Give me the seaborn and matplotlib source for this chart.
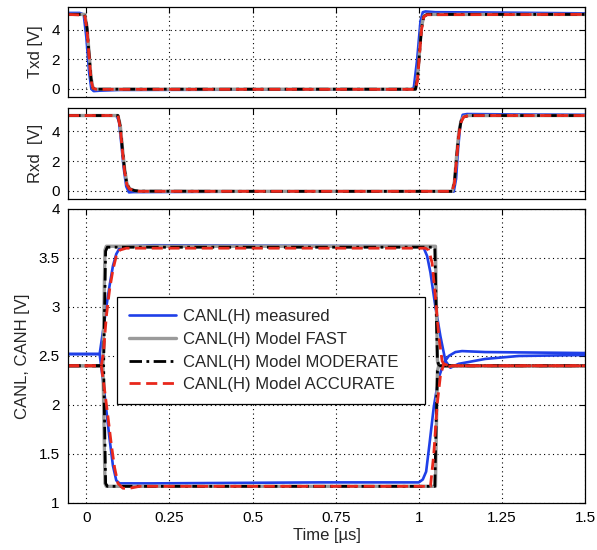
import matplotlib
matplotlib.use("Agg")
import matplotlib.pyplot as plt
import seaborn as sns
import numpy as np

# ---------------- data ----------------
# Txd panel
txd_meas_t = [-0.055, -0.02, -0.008, 0.0, 0.008, 0.015, 0.022, 0.04, 0.1, 0.5, 0.975, 0.985, 0.995, 1.005, 1.012, 1.02, 1.05, 1.2, 1.5]
txd_meas_v = [5.15, 5.15, 5.05, 3.5, 1.2, 0.0, -0.15, -0.12, -0.07, -0.05, -0.05, 0.1, 2.0, 4.6, 5.2, 5.25, 5.2, 5.18, 5.12]
txd_model_t = [-0.055, -0.005, 0.002, 0.008, 0.014, 0.02, 0.03, 0.5, 0.99, 0.996, 1.002, 1.008, 1.015, 1.025, 1.5]
txd_fast_v = [5.05, 5.05, 4.2, 2.5, 0.8, 0.05, -0.02, -0.02, -0.02, 0.8, 2.5, 4.2, 4.95, 5.05, 5.05]
txd_mod_v = [5.05, 5.05, 4.1, 2.4, 0.7, 0.05, -0.02, -0.02, -0.02, 0.7, 2.4, 4.1, 4.9, 5.05, 5.05]
txd_acc_v = [5.05, 5.0, 4.0, 2.3, 0.6, 0.05, -0.03, -0.03, -0.03, 0.6, 2.3, 4.0, 4.9, 5.03, 5.05]

# Rxd panel
rxd_meas_t = [-0.055, 0.09, 0.098, 0.105, 0.112, 0.12, 0.128, 0.14, 0.5, 1.105, 1.112, 1.118, 1.125, 1.132, 1.145, 1.3, 1.5]
rxd_meas_v = [5.05, 5.05, 4.7, 3.2, 1.6, 0.3, -0.1, -0.08, -0.05, -0.05, 0.8, 2.8, 4.5, 5.1, 5.15, 5.12, 5.1]
rxd_model_t = [-0.055, 0.095, 0.102, 0.108, 0.115, 0.122, 0.13, 0.145, 0.16, 0.5, 1.1, 1.107, 1.113, 1.12, 1.127, 1.135, 1.15, 1.5]
rxd_fast_v = [5.05, 5.05, 4.4, 3.0, 1.5, 0.5, 0.15, 0.02, -0.02, -0.03, -0.03, 0.6, 2.2, 3.9, 4.7, 4.98, 5.05, 5.05]
rxd_mod_v = [5.05, 5.05, 4.3, 2.9, 1.4, 0.45, 0.12, 0.02, -0.02, -0.03, -0.03, 0.5, 2.1, 3.8, 4.65, 4.95, 5.05, 5.05]
rxd_acc_v = [5.05, 5.05, 4.2, 2.8, 1.3, 0.4, 0.12, 0.02, -0.03, -0.03, -0.03, 0.5, 2.0, 3.7, 4.6, 4.95, 5.05, 5.05]

# CAN panel - measured
canh_meas_t = [-0.055, 0.04, 0.05, 0.06, 0.07, 0.08, 0.09, 0.1, 0.12, 0.2, 1.0, 1.015, 1.025, 1.035, 1.05, 1.065, 1.08, 1.095, 1.12, 1.2, 1.3, 1.5]
canh_meas_v = [2.52, 2.52, 2.75, 3.0, 3.22, 3.42, 3.54, 3.6, 3.62, 3.63, 3.62, 3.6, 3.52, 3.35, 3.0, 2.7, 2.45, 2.38, 2.42, 2.47, 2.5, 2.51]
canl_meas_t = [-0.055, 0.04, 0.05, 0.06, 0.07, 0.08, 0.09, 0.1, 0.2, 0.7, 1.0, 1.012, 1.022, 1.032, 1.045, 1.06, 1.075, 1.09, 1.11, 1.13, 1.2, 1.5]
canl_meas_v = [2.52, 2.52, 2.25, 1.95, 1.65, 1.38, 1.23, 1.2, 1.2, 1.21, 1.21, 1.24, 1.32, 1.6, 1.98, 2.28, 2.43, 2.5, 2.54, 2.55, 2.54, 2.53]

# CAN panel - model FAST
can_fast_t = [-0.055, 0.05, 0.053, 0.056, 0.06, 1.05, 1.053, 1.056, 1.06, 1.5]
canh_fast_v = [2.4, 2.4, 3.0, 3.58, 3.62, 3.62, 3.0, 2.45, 2.4, 2.4]
canl_fast_v = [2.4, 2.4, 1.8, 1.2, 1.17, 1.17, 1.8, 2.35, 2.4, 2.4]

# CAN panel - model MODERATE
can_mod_t = [-0.055, 0.052, 0.055, 0.058, 0.063, 1.048, 1.052, 1.056, 1.061, 1.5]
canh_mod_v = [2.4, 2.4, 3.0, 3.57, 3.61, 3.61, 3.0, 2.45, 2.4, 2.4]
canl_mod_v = [2.4, 2.4, 1.8, 1.2, 1.17, 1.17, 1.8, 2.35, 2.4, 2.4]

# CAN panel - model ACCURATE
canh_acc_t = [-0.055, 0.045, 0.052, 0.06, 0.07, 0.08, 0.09, 0.1, 0.12, 0.2, 1.02, 1.03, 1.04, 1.05, 1.06, 1.07, 1.08, 1.1, 1.5]
canh_acc_v = [2.4, 2.4, 2.55, 2.9, 3.18, 3.38, 3.52, 3.58, 3.6, 3.6, 3.6, 3.58, 3.45, 3.1, 2.7, 2.45, 2.38, 2.4, 2.4]
canl_acc_t = [-0.055, 0.045, 0.055, 0.065, 0.075, 0.085, 0.095, 0.11, 0.13, 0.16, 0.5, 1.035, 1.045, 1.055, 1.065, 1.075, 1.09, 1.5]
canl_acc_v = [2.4, 2.4, 2.15, 1.88, 1.6, 1.36, 1.2, 1.15, 1.15, 1.17, 1.17, 1.17, 1.5, 2.0, 2.3, 2.42, 2.4, 2.4]

legend_labels = ["CANL(H) measured", "CANL(H) Model FAST",
                 "CANL(H) Model MODERATE", "CANL(H) Model ACCURATE"]
x_ticks = [0, 0.25, 0.5, 0.75, 1, 1.25, 1.5]
x_ticklabels = ["0", "0.25", "0.5", "0.75", "1", "1.25", "1.5"]
y_ticks_dig = [0, 2, 4]
y_ticks_can = [1, 1.5, 2, 2.5, 3, 3.5, 4]
y_ticklabels_can = ["1", "1.5", "2", "2.5", "3", "3.5", "4"]

# ---------------- styling ----------------
sns.set_theme(style="white")
plt.rcParams['font.family'] = ['Liberation Sans', 'DejaVu Sans']

C_MEAS = "#1f3fe8"
C_FAST = "#9a9a9a"
C_MOD = "black"
C_ACC = "#e8281c"
STYLES = [
    dict(color=C_MEAS, lw=1.9, linestyle="-"),
    dict(color=C_FAST, lw=2.4, linestyle="-"),
    dict(color=C_MOD, lw=2.0, linestyle=(0, (4.5, 1.6, 1.0, 1.6))),
    dict(color=C_ACC, lw=2.0, linestyle=(0, (4, 2))),
]

fig = plt.figure(figsize=(5.97, 5.5), dpi=100)
ax1 = fig.add_axes([0.114, 0.8236, 0.866, 0.1636])
ax2 = fig.add_axes([0.114, 0.638, 0.866, 0.1655])
ax3 = fig.add_axes([0.114, 0.0855, 0.866, 0.5345])


def line(ax, t, v, st, label=None):
    sns.lineplot(x=t, y=v, ax=ax, estimator=None, sort=False,
                 legend=False, label=label, **st)


line(ax1, txd_meas_t, txd_meas_v, STYLES[0])
line(ax1, txd_model_t, txd_fast_v, STYLES[1])
line(ax1, txd_model_t, txd_mod_v, STYLES[2])
line(ax1, txd_model_t, txd_acc_v, STYLES[3])

line(ax2, rxd_meas_t, rxd_meas_v, STYLES[0])
line(ax2, rxd_model_t, rxd_fast_v, STYLES[1])
line(ax2, rxd_model_t, rxd_mod_v, STYLES[2])
line(ax2, rxd_model_t, rxd_acc_v, STYLES[3])

line(ax3, canh_meas_t, canh_meas_v, STYLES[0])
line(ax3, canl_meas_t, canl_meas_v, STYLES[0])
line(ax3, can_fast_t, canh_fast_v, STYLES[1])
line(ax3, can_fast_t, canl_fast_v, STYLES[1])
line(ax3, can_mod_t, canh_mod_v, STYLES[2])
line(ax3, can_mod_t, canl_mod_v, STYLES[2])
line(ax3, canh_acc_t, canh_acc_v, STYLES[3])
line(ax3, canl_acc_t, canl_acc_v, STYLES[3])

for ax in (ax1, ax2, ax3):
    ax.set_xlim(-0.055, 1.5)
    ax.set_xticks(x_ticks)
    ax.grid(True, linestyle=(0, (1, 3)), color="black", linewidth=0.8)
    ax.tick_params(direction="in", top=True, right=True, length=4,
                   width=0.8, labelsize=11, colors="black", pad=6)
    for s in ax.spines.values():
        s.set_color("black")
        s.set_linewidth(0.9)
    ax.set_axisbelow(True)

for ax in (ax1, ax2):
    ax.set_ylim(-0.55, 5.55)
    ax.set_yticks(y_ticks_dig)
    ax.set_xticklabels([])

ax1.set_ylabel("Txd [V]", fontsize=12, labelpad=6)
ax2.set_ylabel("Rxd  [V]", fontsize=12, labelpad=6)

ax3.set_ylim(1, 4)
ax3.set_yticks(y_ticks_can)
ax3.set_yticklabels(y_ticklabels_can)
ax3.set_xticklabels(x_ticklabels)
ax3.set_ylabel("CANL, CANH [V]", fontsize=12, labelpad=6)
ax3.set_xlabel("Time [\u00b5s]", fontsize=12, labelpad=2)

from matplotlib.lines import Line2D
handles = [Line2D([], [], **s) for s in STYLES]
leg = ax3.legend(handles, legend_labels, loc="upper left",
                 bbox_to_anchor=(0.095, 0.70, 0.596, 0.0), mode="expand",
                 borderaxespad=0,
                 fontsize=12, frameon=True, fancybox=False, framealpha=1,
                 edgecolor="black", handlelength=2.8, handletextpad=0.4,
                 labelspacing=0.46, borderpad=0.72)
leg.get_frame().set_linewidth(0.9)

fig.savefig("out.png", dpi=100)
